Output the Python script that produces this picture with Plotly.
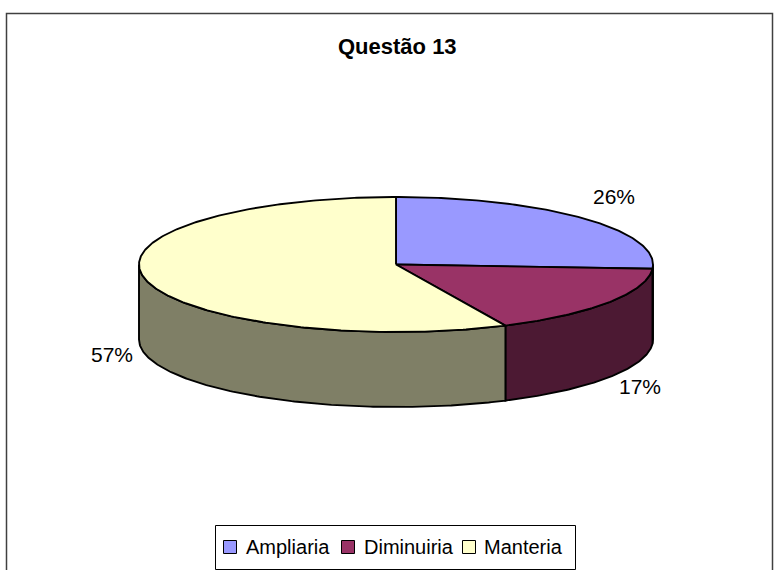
import numpy as np
import plotly.graph_objects as go

# Data
categories = ["Ampliaria", "Diminuiria", "Manteria"]
percentages = [26, 17, 57]
labels = ["26%", "17%", "57%"]

# Colours: top faces and darker side walls
top_colors = ["#9999FF", "#993366", "#FFFFCC"]
side_colors = ["#4C4C7F", "#4C1933", "#7F7F66"]

W, H = 774, 570
FONT = "Liberation Sans, Arial, sans-serif"

# Pie geometry (pixel space of the figure)
cx, cy = 396.0, 264.5
rx, ry = 257.0, 67.5
depth = 75.0


def rim(theta_deg, drop=0.0):
    """Point on the elliptical rim; angle clockwise from 12 o'clock."""
    t = np.radians(theta_deg)
    return cx + rx * np.sin(t), cy - ry * np.cos(t) + drop


def arc(a, b, drop=0.0, n=None):
    n = n or max(8, int(abs(b - a) * 1.5))
    ts = np.linspace(a, b, n)
    xs, ys = rim(ts, drop)
    return list(xs), list(ys)


total = float(sum(percentages))
bounds = np.concatenate([[0.0], np.cumsum(percentages) / total * 360.0])

fig = go.Figure()

# Side walls (visible front half: 90..270 degrees)
for i in range(len(categories)):
    a, b = bounds[i], bounds[i + 1]
    t1, t2 = max(a, 90.0), min(b, 270.0)
    if t2 <= t1:
        continue
    xt, yt = arc(t1, t2)
    xb, yb = arc(t2, t1, drop=depth)
    fig.add_trace(go.Scatter(
        x=xt + xb + [xt[0]], y=yt + yb + [yt[0]],
        mode="lines", fill="toself", fillcolor=side_colors[i],
        line=dict(color="black", width=1.9),
        hoverinfo="skip", showlegend=False))

# Top faces
for i in range(len(categories)):
    a, b = bounds[i], bounds[i + 1]
    xa, ya = arc(a, b)
    fig.add_trace(go.Scatter(
        x=[cx] + xa + [cx], y=[cy] + ya + [cy],
        mode="lines", fill="toself", fillcolor=top_colors[i],
        line=dict(color="black", width=1.9),
        hoverinfo="skip", showlegend=False))

# Percentage labels outside the pie
for i, lab in enumerate(labels):
    mid = (bounds[i] + bounds[i + 1]) / 2.0
    t = np.radians(mid)
    front = np.cos(t) < 0
    px, py = rim(mid, drop=depth if front else 0.0)
    s, c = np.sin(t), np.cos(t)
    fig.add_annotation(
        x=px + 10 * s, y=py - 25 * c - 5, text=lab, showarrow=False,
        xanchor="left" if s > 0 else "right", yanchor="middle",
        font=dict(family=FONT, size=21, color="black"))

# Title
fig.add_annotation(x=397, y=46, text="<b>Questão 13</b>", showarrow=False,
                   xanchor="center", yanchor="middle",
                   font=dict(family=FONT, size=22, color="black"))

# Chart area border
fig.add_shape(type="rect", x0=6.5, y0=13.5, x1=772.5, y1=600,
              line=dict(color="#404040", width=1.5), layer="below")

# Legend box with swatches and names
fig.add_shape(type="rect", x0=215.5, y0=525.5, x1=575.5, y1=569.5,
              line=dict(color="black", width=1), fillcolor="white")
swatch_x = [223, 341, 462]
text_x = [244, 362, 482]
for i, name in enumerate(categories):
    fig.add_shape(type="rect", x0=swatch_x[i] + 0.5, y0=540.5,
                  x1=swatch_x[i] + 13.5, y1=553.5,
                  line=dict(color="black", width=1),
                  fillcolor=top_colors[i])
    fig.add_annotation(x=text_x[i], y=547, text=name, showarrow=False,
                       xanchor="left", yanchor="middle",
                       font=dict(family=FONT, size=20, color="black"))

fig.update_layout(
    width=W, height=H,
    margin=dict(l=0, r=0, t=0, b=0),
    paper_bgcolor="white", plot_bgcolor="white",
    xaxis=dict(range=[0, W], visible=False, fixedrange=True),
    yaxis=dict(range=[H, 0], visible=False, fixedrange=True),
    showlegend=False,
)

fig.write_html("out.html")
